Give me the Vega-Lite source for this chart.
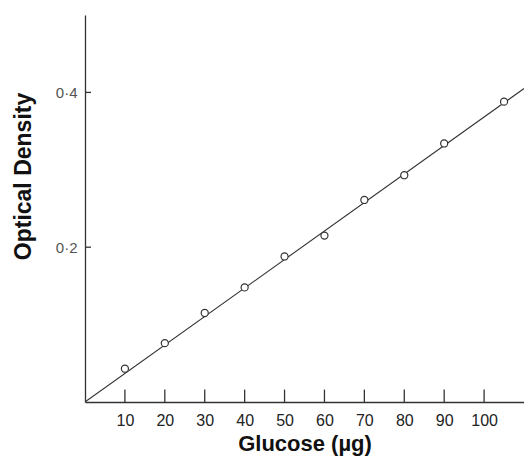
{
  "$schema": "https://vega.github.io/schema/vega-lite/v6.json",
  "width": 439,
  "height": 387,
  "autosize": {"type": "none"},
  "padding": {"left": 85, "top": 15, "right": 0, "bottom": 54},
  "background": "#ffffff",
  "config": {"view": {"stroke": null}},
  "datasets": {
    "points": [
      {"glucose": 10, "od": 0.043},
      {"glucose": 20, "od": 0.076},
      {"glucose": 30, "od": 0.115},
      {"glucose": 40, "od": 0.148},
      {"glucose": 50, "od": 0.188},
      {"glucose": 60, "od": 0.215},
      {"glucose": 70, "od": 0.261},
      {"glucose": 80, "od": 0.293},
      {"glucose": 90, "od": 0.334},
      {"glucose": 105, "od": 0.388}
    ],
    "fit": [
      {"glucose": 0, "od": 0.0},
      {"glucose": 110, "od": 0.405}
    ],
    "xticks": [
      {"glucose": 10}, {"glucose": 20}, {"glucose": 30}, {"glucose": 40}, {"glucose": 50},
      {"glucose": 60}, {"glucose": 70}, {"glucose": 80}, {"glucose": 90}, {"glucose": 100}
    ],
    "yticks": [
      {"od": 0.2}, {"od": 0.4}
    ]
  },
  "layer": [
    {
      "data": {"name": "fit"},
      "mark": {"type": "line", "color": "#333333", "strokeWidth": 1.1, "clip": true},
      "encoding": {
        "x": {
          "field": "glucose", "type": "quantitative",
          "scale": {"domain": [0, 110], "nice": false},
          "axis": {
            "title": "Glucose (µg)",
            "values": [10, 20, 30, 40, 50, 60, 70, 80, 90, 100],
            "grid": false,
            "domainColor": "#333333", "domainWidth": 1.3,
            "ticks": false,
            "labelFont": "Liberation Sans", "labelFontSize": 16, "labelColor": "#222222",
            "labelPadding": 10,
            "titleFont": "Liberation Sans", "titleFontSize": 22, "titleFontWeight": "bold", "titleColor": "#111111",
            "titlePadding": 5
          }
        },
        "y": {
          "field": "od", "type": "quantitative",
          "scale": {"domain": [0, 0.5], "nice": false},
          "axis": {
            "title": "Optical Density",
            "values": [0.2, 0.4],
            "labelExpr": "replace(format(datum.value, '.1f'), '.', '·')",
            "grid": false,
            "domainColor": "#333333", "domainWidth": 1.3,
            "ticks": false,
            "labelFont": "Liberation Sans", "labelFontSize": 15, "labelColor": "#555555",
            "labelPadding": 8,
            "titleFont": "Liberation Sans", "titleFontSize": 23, "titleFontWeight": "bold", "titleColor": "#111111",
            "titleX": -50,
            "titleY": 161
          }
        }
      }
    },
    {
      "data": {"name": "xticks"},
      "mark": {"type": "rule", "color": "#333333", "strokeWidth": 1.3},
      "encoding": {
        "x": {"field": "glucose", "type": "quantitative"},
        "y": {"datum": 0},
        "y2": {"datum": 0.016}
      }
    },
    {
      "data": {"name": "yticks"},
      "mark": {"type": "rule", "color": "#333333", "strokeWidth": 1.3},
      "encoding": {
        "y": {"field": "od", "type": "quantitative"},
        "x": {"datum": 0},
        "x2": {"datum": 1.5}
      }
    },
    {
      "data": {"name": "points"},
      "mark": {"type": "point", "shape": "circle", "size": 50, "filled": false, "fill": "#ffffff", "fillOpacity": 1, "stroke": "#333333", "strokeWidth": 1.2, "opacity": 1},
      "encoding": {
        "x": {"field": "glucose", "type": "quantitative"},
        "y": {"field": "od", "type": "quantitative"}
      }
    }
  ]
}
